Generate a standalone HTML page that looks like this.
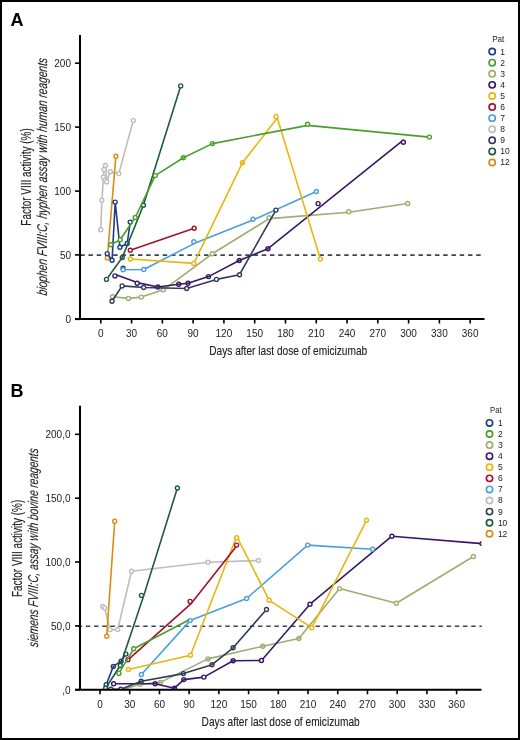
<!DOCTYPE html>
<html><head><meta charset="utf-8"><style>html,body{margin:0;padding:0;background:#fff;width:520px;height:740px;overflow:hidden}</style></head>
<body><svg width="520" height="740" viewBox="0 0 520 740" style="display:block;font-family:'Liberation Sans', sans-serif;will-change:transform"><rect x="0" y="0" width="520" height="740" fill="#fff"/><text x="10.6" y="25.6" font-size="18" font-weight="bold" fill="#000">A</text><line x1="80.2" y1="255.1" x2="484.5" y2="255.1" stroke="#3e4459" stroke-width="1.6" stroke-dasharray="4.5 3.75"/><clipPath id="clipA"><rect x="80" y="25" width="404.5" height="293.4"/></clipPath><g clip-path="url(#clipA)"><circle cx="123.1" cy="268.3" r="2.0" fill="#fff" stroke="#1d3c84" stroke-width="1.4"/><circle cx="318.1" cy="203.6" r="2.0" fill="#fff" stroke="#3b1767" stroke-width="1.4"/><polyline points="100.7,229.8 101.9,200.2 103.4,177.0 104.1,169.5 105.5,165.5 106.7,181.9 110.3,171.8 118.8,173.6 133.3,120.4" fill="none" stroke="#bdbdc0" stroke-width="1.6" stroke-linejoin="round"/><circle cx="100.7" cy="229.8" r="2.0" fill="#fff" stroke="#bdbdc0" stroke-width="1.4"/><circle cx="101.9" cy="200.2" r="2.0" fill="#fff" stroke="#bdbdc0" stroke-width="1.4"/><circle cx="103.4" cy="177.0" r="2.0" fill="#fff" stroke="#bdbdc0" stroke-width="1.4"/><circle cx="104.1" cy="169.5" r="2.0" fill="#fff" stroke="#bdbdc0" stroke-width="1.4"/><circle cx="105.5" cy="165.5" r="2.0" fill="#fff" stroke="#bdbdc0" stroke-width="1.4"/><circle cx="106.7" cy="181.9" r="2.0" fill="#fff" stroke="#bdbdc0" stroke-width="1.4"/><circle cx="110.3" cy="171.8" r="2.0" fill="#fff" stroke="#bdbdc0" stroke-width="1.4"/><circle cx="118.8" cy="173.6" r="2.0" fill="#fff" stroke="#bdbdc0" stroke-width="1.4"/><circle cx="133.3" cy="120.4" r="2.0" fill="#fff" stroke="#bdbdc0" stroke-width="1.4"/><polyline points="107.3,257.9 115.9,156.2" fill="none" stroke="#de8a14" stroke-width="1.6" stroke-linejoin="round"/><circle cx="107.3" cy="257.9" r="2.0" fill="#fff" stroke="#de8a14" stroke-width="1.4"/><circle cx="115.9" cy="156.2" r="2.0" fill="#fff" stroke="#de8a14" stroke-width="1.4"/><polyline points="107.2,253.6 112.1,260.2 115.2,202.1 119.9,247.2 127.2,243.5 130.2,222.1" fill="none" stroke="#1d3c84" stroke-width="1.6" stroke-linejoin="round"/><circle cx="107.2" cy="253.6" r="2.0" fill="#fff" stroke="#1d3c84" stroke-width="1.4"/><circle cx="112.1" cy="260.2" r="2.0" fill="#fff" stroke="#1d3c84" stroke-width="1.4"/><circle cx="115.2" cy="202.1" r="2.0" fill="#fff" stroke="#1d3c84" stroke-width="1.4"/><circle cx="119.9" cy="247.2" r="2.0" fill="#fff" stroke="#1d3c84" stroke-width="1.4"/><circle cx="127.2" cy="243.5" r="2.0" fill="#fff" stroke="#1d3c84" stroke-width="1.4"/><circle cx="130.2" cy="222.1" r="2.0" fill="#fff" stroke="#1d3c84" stroke-width="1.4"/><polyline points="106.5,279.4 122.3,257.5 143.4,205.2 180.7,85.9" fill="none" stroke="#1e5b3d" stroke-width="1.6" stroke-linejoin="round"/><circle cx="106.5" cy="279.4" r="2.0" fill="#fff" stroke="#1e5b3d" stroke-width="1.4"/><circle cx="122.3" cy="257.5" r="2.0" fill="none" stroke="#1e5b3d" stroke-width="1.4"/><circle cx="143.4" cy="205.2" r="2.0" fill="#fff" stroke="#1e5b3d" stroke-width="1.4"/><circle cx="180.7" cy="85.9" r="2.0" fill="#fff" stroke="#1e5b3d" stroke-width="1.4"/><polyline points="112.5,296.7 128.4,298.4 141.3,297.1 163.4,289.8 212.3,253.8 269.2,218.6 348.8,212.3 407.7,203.5" fill="none" stroke="#9fac72" stroke-width="1.6" stroke-linejoin="round"/><circle cx="112.5" cy="296.7" r="2.0" fill="#fff" stroke="#9fac72" stroke-width="1.4"/><circle cx="128.4" cy="298.4" r="2.0" fill="#fff" stroke="#9fac72" stroke-width="1.4"/><circle cx="141.3" cy="297.1" r="2.0" fill="#fff" stroke="#9fac72" stroke-width="1.4"/><circle cx="163.4" cy="289.8" r="2.0" fill="#fff" stroke="#9fac72" stroke-width="1.4"/><circle cx="212.3" cy="253.8" r="2.0" fill="#fff" stroke="#9fac72" stroke-width="1.4"/><circle cx="269.2" cy="217.8" r="2.0" fill="#fff" stroke="#9fac72" stroke-width="1.4"/><circle cx="348.8" cy="211.8" r="2.0" fill="#fff" stroke="#9fac72" stroke-width="1.4"/><circle cx="407.7" cy="203.5" r="2.0" fill="#fff" stroke="#9fac72" stroke-width="1.4"/><polyline points="115.4,274.6 137.2,282.6 157.9,287.0 178.7,284.3 188.0,283.3 208.5,276.6 239.2,260.5 268.0,248.7 403.6,139.8" fill="none" stroke="#3b1767" stroke-width="1.6" stroke-linejoin="round"/><circle cx="114.9" cy="275.9" r="2.0" fill="#fff" stroke="#3b1767" stroke-width="1.4"/><circle cx="137.2" cy="283.2" r="2.0" fill="#fff" stroke="#3b1767" stroke-width="1.4"/><circle cx="157.9" cy="287.0" r="2.0" fill="none" stroke="#3b1767" stroke-width="1.4"/><circle cx="178.7" cy="284.3" r="2.0" fill="none" stroke="#3b1767" stroke-width="1.4"/><circle cx="188.0" cy="283.3" r="2.0" fill="none" stroke="#3b1767" stroke-width="1.4"/><circle cx="208.5" cy="276.6" r="2.0" fill="none" stroke="#3b1767" stroke-width="1.4"/><circle cx="239.2" cy="260.5" r="2.0" fill="none" stroke="#3b1767" stroke-width="1.4"/><circle cx="268.0" cy="248.7" r="2.0" fill="none" stroke="#3b1767" stroke-width="1.4"/><circle cx="403.4" cy="142.2" r="2.0" fill="#fff" stroke="#3b1767" stroke-width="1.4"/><polyline points="123.1,269.8 143.8,269.5 194.0,243.6 253.0,220.0 316.4,191.5" fill="none" stroke="#4a9fdc" stroke-width="1.6" stroke-linejoin="round"/><circle cx="123.1" cy="269.8" r="2.0" fill="#fff" stroke="#4a9fdc" stroke-width="1.4"/><circle cx="143.8" cy="269.5" r="2.0" fill="#fff" stroke="#4a9fdc" stroke-width="1.4"/><circle cx="193.8" cy="241.8" r="2.0" fill="#fff" stroke="#4a9fdc" stroke-width="1.4"/><circle cx="253.0" cy="219.3" r="2.0" fill="#fff" stroke="#4a9fdc" stroke-width="1.4"/><circle cx="316.4" cy="191.5" r="2.0" fill="#fff" stroke="#4a9fdc" stroke-width="1.4"/><polyline points="112.0,301.2 122.1,285.9 143.7,287.5 186.7,288.5 216.4,279.4 239.5,274.7 275.9,210.1" fill="none" stroke="#313c57" stroke-width="1.6" stroke-linejoin="round"/><circle cx="112.0" cy="301.2" r="2.0" fill="#fff" stroke="#313c57" stroke-width="1.4"/><circle cx="122.1" cy="285.9" r="2.0" fill="#fff" stroke="#313c57" stroke-width="1.4"/><circle cx="143.7" cy="287.5" r="2.0" fill="#fff" stroke="#313c57" stroke-width="1.4"/><circle cx="186.7" cy="288.5" r="2.0" fill="#fff" stroke="#313c57" stroke-width="1.4"/><circle cx="216.4" cy="279.4" r="2.0" fill="#fff" stroke="#313c57" stroke-width="1.4"/><circle cx="239.5" cy="274.7" r="2.0" fill="#fff" stroke="#313c57" stroke-width="1.4"/><circle cx="275.9" cy="210.1" r="2.0" fill="#fff" stroke="#313c57" stroke-width="1.4"/><polyline points="130.4,259.0 193.8,263.4 242.5,162.7 277.3,118.0 320.4,259.1" fill="none" stroke="#e8b60c" stroke-width="1.6" stroke-linejoin="round"/><circle cx="130.4" cy="259.0" r="2.0" fill="#fff" stroke="#e8b60c" stroke-width="1.4"/><circle cx="193.8" cy="263.4" r="2.0" fill="#fff" stroke="#e8b60c" stroke-width="1.4"/><circle cx="242.5" cy="162.7" r="2.0" fill="none" stroke="#e8b60c" stroke-width="1.4"/><circle cx="276.0" cy="116.4" r="2.0" fill="#fff" stroke="#e8b60c" stroke-width="1.4"/><circle cx="320.4" cy="259.1" r="2.0" fill="#fff" stroke="#e8b60c" stroke-width="1.4"/><polyline points="130.3,250.2 194.2,228.2" fill="none" stroke="#a3102b" stroke-width="1.6" stroke-linejoin="round"/><circle cx="130.3" cy="250.2" r="2.0" fill="#fff" stroke="#a3102b" stroke-width="1.4"/><circle cx="194.2" cy="228.2" r="2.0" fill="#fff" stroke="#a3102b" stroke-width="1.4"/><polyline points="110.8,244.7 120.2,239.8 135.2,217.5 155.2,175.6 183.3,157.8 212.5,143.6 307.7,125.4 429.4,137.1" fill="none" stroke="#4b9e2a" stroke-width="1.6" stroke-linejoin="round"/><circle cx="110.8" cy="244.7" r="2.0" fill="#fff" stroke="#4b9e2a" stroke-width="1.4"/><circle cx="120.2" cy="239.8" r="2.0" fill="#fff" stroke="#4b9e2a" stroke-width="1.4"/><circle cx="135.2" cy="217.5" r="2.0" fill="#fff" stroke="#4b9e2a" stroke-width="1.4"/><circle cx="155.2" cy="175.6" r="2.0" fill="#fff" stroke="#4b9e2a" stroke-width="1.4"/><circle cx="183.3" cy="157.8" r="2.0" fill="none" stroke="#4b9e2a" stroke-width="1.4"/><circle cx="212.5" cy="143.6" r="2.0" fill="none" stroke="#4b9e2a" stroke-width="1.4"/><circle cx="307.6" cy="124.3" r="2.0" fill="#fff" stroke="#4b9e2a" stroke-width="1.4"/><circle cx="429.4" cy="137.1" r="2.0" fill="#fff" stroke="#4b9e2a" stroke-width="1.4"/></g><line x1="80" y1="35" x2="80" y2="319.0" stroke="#000" stroke-width="2"/><line x1="75" y1="319.0" x2="484.5" y2="319.0" stroke="#000" stroke-width="2"/><line x1="75" y1="63.2" x2="80" y2="63.2" stroke="#000" stroke-width="1.6"/><text x="71" y="67.0" font-size="10" text-anchor="end" fill="#222">200</text><line x1="75" y1="127.1" x2="80" y2="127.1" stroke="#000" stroke-width="1.6"/><text x="71" y="130.9" font-size="10" text-anchor="end" fill="#222">150</text><line x1="75" y1="191.1" x2="80" y2="191.1" stroke="#000" stroke-width="1.6"/><text x="71" y="194.9" font-size="10" text-anchor="end" fill="#222">100</text><line x1="75" y1="254.9" x2="80" y2="254.9" stroke="#000" stroke-width="1.6"/><text x="71" y="258.7" font-size="10" text-anchor="end" fill="#222">50</text><line x1="75" y1="319.3" x2="80" y2="319.3" stroke="#000" stroke-width="1.6"/><text x="71" y="323.1" font-size="10" text-anchor="end" fill="#222">0</text><line x1="100.80" y1="319.0" x2="100.80" y2="323.5" stroke="#000" stroke-width="1.6"/><text x="100.80" y="337.2" font-size="10" text-anchor="middle" fill="#222">0</text><line x1="131.58" y1="319.0" x2="131.58" y2="323.5" stroke="#000" stroke-width="1.6"/><text x="131.58" y="337.2" font-size="10" text-anchor="middle" fill="#222">30</text><line x1="162.36" y1="319.0" x2="162.36" y2="323.5" stroke="#000" stroke-width="1.6"/><text x="162.36" y="337.2" font-size="10" text-anchor="middle" fill="#222">60</text><line x1="193.14" y1="319.0" x2="193.14" y2="323.5" stroke="#000" stroke-width="1.6"/><text x="193.14" y="337.2" font-size="10" text-anchor="middle" fill="#222">90</text><line x1="223.92" y1="319.0" x2="223.92" y2="323.5" stroke="#000" stroke-width="1.6"/><text x="223.92" y="337.2" font-size="10" text-anchor="middle" fill="#222">120</text><line x1="254.70" y1="319.0" x2="254.70" y2="323.5" stroke="#000" stroke-width="1.6"/><text x="254.70" y="337.2" font-size="10" text-anchor="middle" fill="#222">150</text><line x1="285.48" y1="319.0" x2="285.48" y2="323.5" stroke="#000" stroke-width="1.6"/><text x="285.48" y="337.2" font-size="10" text-anchor="middle" fill="#222">180</text><line x1="316.26" y1="319.0" x2="316.26" y2="323.5" stroke="#000" stroke-width="1.6"/><text x="316.26" y="337.2" font-size="10" text-anchor="middle" fill="#222">210</text><line x1="347.04" y1="319.0" x2="347.04" y2="323.5" stroke="#000" stroke-width="1.6"/><text x="347.04" y="337.2" font-size="10" text-anchor="middle" fill="#222">240</text><line x1="377.82" y1="319.0" x2="377.82" y2="323.5" stroke="#000" stroke-width="1.6"/><text x="377.82" y="337.2" font-size="10" text-anchor="middle" fill="#222">270</text><line x1="408.60" y1="319.0" x2="408.60" y2="323.5" stroke="#000" stroke-width="1.6"/><text x="408.60" y="337.2" font-size="10" text-anchor="middle" fill="#222">300</text><line x1="439.38" y1="319.0" x2="439.38" y2="323.5" stroke="#000" stroke-width="1.6"/><text x="439.38" y="337.2" font-size="10" text-anchor="middle" fill="#222">330</text><line x1="470.16" y1="319.0" x2="470.16" y2="323.5" stroke="#000" stroke-width="1.6"/><text x="470.16" y="337.2" font-size="10" text-anchor="middle" fill="#222">360</text><text x="209.2" y="355.3" font-size="13" fill="#222" stroke="#222" stroke-width="0.12" textLength="158.0" lengthAdjust="spacingAndGlyphs">Days after last dose of emicizumab</text><text transform="translate(30.8,225.7) rotate(-90)" font-size="14" fill="#222" stroke="#222" stroke-width="0.12" textLength="97.39999999999998" lengthAdjust="spacingAndGlyphs">Factor VIII activity (%)</text><text transform="translate(46.5,295.8) rotate(-90) skewX(-6)" font-size="14.2" font-style="italic" fill="#222" stroke="#222" stroke-width="0.12" textLength="237.5" lengthAdjust="spacingAndGlyphs">biophen FVIII:C, hyphen assay with human reagents</text><text x="492.2" y="41.9" font-size="8.5" fill="#222" textLength="12.199999999999989" lengthAdjust="spacingAndGlyphs">Pat</text><circle cx="492.2" cy="51.60" r="3.15" fill="none" stroke="#1d3c84" stroke-width="1.65"/><text x="500.3" y="54.50" font-size="8.5" fill="#222">1</text><circle cx="492.2" cy="62.69" r="3.15" fill="none" stroke="#4b9e2a" stroke-width="1.65"/><text x="500.3" y="65.59" font-size="8.5" fill="#222">2</text><circle cx="492.2" cy="73.78" r="3.15" fill="none" stroke="#9fac72" stroke-width="1.65"/><text x="500.3" y="76.68" font-size="8.5" fill="#222">3</text><circle cx="492.2" cy="84.87" r="3.15" fill="none" stroke="#3b1767" stroke-width="1.65"/><text x="500.3" y="87.77" font-size="8.5" fill="#222">4</text><circle cx="492.2" cy="95.96" r="3.15" fill="none" stroke="#e8b60c" stroke-width="1.65"/><text x="500.3" y="98.86" font-size="8.5" fill="#222">5</text><circle cx="492.2" cy="107.05" r="3.15" fill="none" stroke="#a3102b" stroke-width="1.65"/><text x="500.3" y="109.95" font-size="8.5" fill="#222">6</text><circle cx="492.2" cy="118.14" r="3.15" fill="none" stroke="#4a9fdc" stroke-width="1.65"/><text x="500.3" y="121.04" font-size="8.5" fill="#222">7</text><circle cx="492.2" cy="129.23" r="3.15" fill="none" stroke="#bdbdc0" stroke-width="1.65"/><text x="500.3" y="132.13" font-size="8.5" fill="#222">8</text><circle cx="492.2" cy="140.32" r="3.15" fill="none" stroke="#313c57" stroke-width="1.65"/><text x="500.3" y="143.22" font-size="8.5" fill="#222">9</text><circle cx="492.2" cy="151.41" r="3.15" fill="none" stroke="#1e5b3d" stroke-width="1.65"/><text x="500.3" y="154.31" font-size="8.5" fill="#222">10</text><circle cx="492.2" cy="162.50" r="3.15" fill="none" stroke="#de8a14" stroke-width="1.65"/><text x="500.3" y="165.40" font-size="8.5" fill="#222">12</text><text x="10.6" y="397.1" font-size="18" font-weight="bold" fill="#000">B</text><line x1="77.6" y1="626.2" x2="481.8" y2="626.2" stroke="#3e4459" stroke-width="1.6" stroke-dasharray="4.5 3.7"/><clipPath id="clipB"><rect x="80" y="395.8" width="401.5" height="293.3999999999999"/></clipPath><g clip-path="url(#clipB)"><polyline points="102.7,606.5 104.6,608.1 110.0,629.6 117.7,629.6 131.5,571.2 208.0,562.3 258.5,560.5" fill="none" stroke="#bdbdc0" stroke-width="1.6" stroke-linejoin="round"/><circle cx="102.7" cy="606.5" r="2.0" fill="#fff" stroke="#bdbdc0" stroke-width="1.4"/><circle cx="104.6" cy="608.1" r="2.0" fill="#fff" stroke="#bdbdc0" stroke-width="1.4"/><circle cx="110.0" cy="629.6" r="2.0" fill="#fff" stroke="#bdbdc0" stroke-width="1.4"/><circle cx="117.7" cy="629.6" r="2.0" fill="#fff" stroke="#bdbdc0" stroke-width="1.4"/><circle cx="131.5" cy="571.2" r="2.0" fill="#fff" stroke="#bdbdc0" stroke-width="1.4"/><circle cx="208.0" cy="562.3" r="2.0" fill="#fff" stroke="#bdbdc0" stroke-width="1.4"/><circle cx="258.5" cy="560.5" r="2.0" fill="#fff" stroke="#bdbdc0" stroke-width="1.4"/><polyline points="106.7,636.2 114.7,521.2" fill="none" stroke="#de8a14" stroke-width="1.6" stroke-linejoin="round"/><circle cx="106.7" cy="636.2" r="2.0" fill="#fff" stroke="#de8a14" stroke-width="1.4"/><circle cx="114.7" cy="521.2" r="2.0" fill="#fff" stroke="#de8a14" stroke-width="1.4"/><polyline points="106.2,684.8 113.3,666.4 121.1,661.2 125.9,654.1" fill="none" stroke="#1d3c84" stroke-width="1.6" stroke-linejoin="round"/><circle cx="106.2" cy="684.8" r="2.0" fill="#fff" stroke="#1d3c84" stroke-width="1.4"/><circle cx="113.3" cy="666.4" r="2.0" fill="none" stroke="#1d3c84" stroke-width="1.4"/><circle cx="121.1" cy="661.2" r="2.0" fill="none" stroke="#1d3c84" stroke-width="1.4"/><circle cx="125.9" cy="654.1" r="2.0" fill="#fff" stroke="#1d3c84" stroke-width="1.4"/><polyline points="105.6,688.2 120.3,665.5 143.8,595.4 177.4,488.0" fill="none" stroke="#1e5b3d" stroke-width="1.6" stroke-linejoin="round"/><circle cx="105.6" cy="688.2" r="2.0" fill="#fff" stroke="#1e5b3d" stroke-width="1.4"/><circle cx="120.3" cy="665.5" r="2.0" fill="#fff" stroke="#1e5b3d" stroke-width="1.4"/><circle cx="141.5" cy="595.4" r="2.0" fill="#fff" stroke="#1e5b3d" stroke-width="1.4"/><circle cx="177.4" cy="488.0" r="2.0" fill="#fff" stroke="#1e5b3d" stroke-width="1.4"/><polyline points="123.0,689.5 140.0,684.2 160.4,682.4 208.0,658.9 262.8,646.2 298.9,638.5 339.6,588.6 396.3,603.2 473.4,556.5" fill="none" stroke="#9fac72" stroke-width="1.6" stroke-linejoin="round"/><circle cx="140.0" cy="684.2" r="2.0" fill="#fff" stroke="#9fac72" stroke-width="1.4"/><circle cx="160.4" cy="682.4" r="2.0" fill="none" stroke="#9fac72" stroke-width="1.4"/><circle cx="208.0" cy="658.9" r="2.0" fill="none" stroke="#9fac72" stroke-width="1.4"/><circle cx="262.8" cy="646.2" r="2.0" fill="none" stroke="#9fac72" stroke-width="1.4"/><circle cx="298.9" cy="638.5" r="2.0" fill="none" stroke="#9fac72" stroke-width="1.4"/><circle cx="339.6" cy="588.6" r="2.0" fill="#fff" stroke="#9fac72" stroke-width="1.4"/><circle cx="396.3" cy="603.2" r="2.0" fill="#fff" stroke="#9fac72" stroke-width="1.4"/><circle cx="473.4" cy="556.5" r="2.0" fill="#fff" stroke="#9fac72" stroke-width="1.4"/><polyline points="113.6,683.7 155.1,683.7 174.4,688.2 183.8,679.6 203.9,677.1 233.1,660.7 261.5,660.5 310.0,604.2 391.9,536.2 482.0,543.6" fill="none" stroke="#3b1767" stroke-width="1.6" stroke-linejoin="round"/><circle cx="113.6" cy="683.7" r="2.0" fill="#fff" stroke="#3b1767" stroke-width="1.4"/><circle cx="155.1" cy="683.7" r="2.0" fill="none" stroke="#3b1767" stroke-width="1.4"/><circle cx="174.4" cy="688.2" r="2.0" fill="none" stroke="#3b1767" stroke-width="1.4"/><circle cx="183.8" cy="679.6" r="2.0" fill="none" stroke="#3b1767" stroke-width="1.4"/><circle cx="203.9" cy="677.1" r="2.0" fill="#fff" stroke="#3b1767" stroke-width="1.4"/><circle cx="233.1" cy="660.7" r="2.0" fill="none" stroke="#3b1767" stroke-width="1.4"/><circle cx="261.5" cy="660.5" r="2.0" fill="#fff" stroke="#3b1767" stroke-width="1.4"/><circle cx="310.0" cy="604.2" r="2.0" fill="#fff" stroke="#3b1767" stroke-width="1.4"/><circle cx="391.9" cy="536.2" r="2.0" fill="#fff" stroke="#3b1767" stroke-width="1.4"/><circle cx="482.0" cy="543.6" r="2.0" fill="#fff" stroke="#3b1767" stroke-width="1.4"/><polyline points="141.4,674.5 190.1,620.6 246.6,598.5 307.7,545.1 372.6,549.2" fill="none" stroke="#4a9fdc" stroke-width="1.6" stroke-linejoin="round"/><circle cx="141.4" cy="674.5" r="2.0" fill="#fff" stroke="#4a9fdc" stroke-width="1.4"/><circle cx="190.1" cy="620.6" r="2.0" fill="#fff" stroke="#4a9fdc" stroke-width="1.4"/><circle cx="246.6" cy="598.5" r="2.0" fill="#fff" stroke="#4a9fdc" stroke-width="1.4"/><circle cx="307.7" cy="545.1" r="2.0" fill="#fff" stroke="#4a9fdc" stroke-width="1.4"/><circle cx="372.6" cy="549.2" r="2.0" fill="#fff" stroke="#4a9fdc" stroke-width="1.4"/><polyline points="106.0,689.5 110.8,689.3 120.8,689.3 141.2,681.3 183.4,673.6 212.0,664.7 233.1,647.8 266.5,609.5" fill="none" stroke="#313c57" stroke-width="1.6" stroke-linejoin="round"/><circle cx="110.8" cy="689.3" r="2.0" fill="#fff" stroke="#313c57" stroke-width="1.4"/><circle cx="120.8" cy="689.3" r="2.0" fill="#fff" stroke="#313c57" stroke-width="1.4"/><circle cx="141.2" cy="681.3" r="2.0" fill="none" stroke="#313c57" stroke-width="1.4"/><circle cx="183.4" cy="673.6" r="2.0" fill="none" stroke="#313c57" stroke-width="1.4"/><circle cx="212.0" cy="664.7" r="2.0" fill="none" stroke="#313c57" stroke-width="1.4"/><circle cx="233.1" cy="647.8" r="2.0" fill="none" stroke="#313c57" stroke-width="1.4"/><circle cx="266.5" cy="609.5" r="2.0" fill="#fff" stroke="#313c57" stroke-width="1.4"/><polyline points="128.4,669.5 190.5,655.3 236.7,536.3 269.2,600.3 311.8,627.7 366.5,520.3" fill="none" stroke="#e8b60c" stroke-width="1.6" stroke-linejoin="round"/><circle cx="128.4" cy="669.5" r="2.0" fill="#fff" stroke="#e8b60c" stroke-width="1.4"/><circle cx="190.5" cy="655.3" r="2.0" fill="#fff" stroke="#e8b60c" stroke-width="1.4"/><circle cx="236.7" cy="537.7" r="2.0" fill="#fff" stroke="#e8b60c" stroke-width="1.4"/><circle cx="269.2" cy="600.3" r="2.0" fill="#fff" stroke="#e8b60c" stroke-width="1.4"/><circle cx="311.8" cy="627.7" r="2.0" fill="#fff" stroke="#e8b60c" stroke-width="1.4"/><circle cx="366.5" cy="520.3" r="2.0" fill="#fff" stroke="#e8b60c" stroke-width="1.4"/><polyline points="127.9,659.8 191.4,603.3 237.0,545.6" fill="none" stroke="#a3102b" stroke-width="1.6" stroke-linejoin="round"/><circle cx="127.9" cy="659.8" r="2.0" fill="#fff" stroke="#a3102b" stroke-width="1.4"/><circle cx="190.1" cy="601.4" r="2.0" fill="#fff" stroke="#a3102b" stroke-width="1.4"/><circle cx="236.6" cy="545.1" r="2.0" fill="#fff" stroke="#a3102b" stroke-width="1.4"/><polyline points="118.9,673.4 133.7,648.8 189.3,619.8" fill="none" stroke="#4b9e2a" stroke-width="1.6" stroke-linejoin="round"/><circle cx="118.9" cy="673.4" r="2.0" fill="#fff" stroke="#4b9e2a" stroke-width="1.4"/><circle cx="133.7" cy="648.8" r="2.0" fill="#fff" stroke="#4b9e2a" stroke-width="1.4"/></g><line x1="80" y1="405.8" x2="80" y2="689.8" stroke="#000" stroke-width="2"/><line x1="75" y1="689.8" x2="481.5" y2="689.8" stroke="#000" stroke-width="2"/><line x1="75" y1="434.3" x2="80" y2="434.3" stroke="#000" stroke-width="1.6"/><text x="70.5" y="438.1" font-size="10" text-anchor="end" fill="#222">200,0</text><line x1="75" y1="498.2" x2="80" y2="498.2" stroke="#000" stroke-width="1.6"/><text x="70.5" y="502.0" font-size="10" text-anchor="end" fill="#222">150,0</text><line x1="75" y1="562.0" x2="80" y2="562.0" stroke="#000" stroke-width="1.6"/><text x="70.5" y="565.8" font-size="10" text-anchor="end" fill="#222">100,0</text><line x1="75" y1="625.9" x2="80" y2="625.9" stroke="#000" stroke-width="1.6"/><text x="70.5" y="629.6999999999999" font-size="10" text-anchor="end" fill="#222">50,0</text><line x1="75" y1="689.7" x2="80" y2="689.7" stroke="#000" stroke-width="1.6"/><text x="70.5" y="693.5" font-size="10" text-anchor="end" fill="#222">,0</text><line x1="100.00" y1="689.8" x2="100.00" y2="694.3" stroke="#000" stroke-width="1.6"/><text x="100.00" y="707.6" font-size="10" text-anchor="middle" fill="#222">0</text><line x1="129.72" y1="689.8" x2="129.72" y2="694.3" stroke="#000" stroke-width="1.6"/><text x="129.72" y="707.6" font-size="10" text-anchor="middle" fill="#222">30</text><line x1="159.44" y1="689.8" x2="159.44" y2="694.3" stroke="#000" stroke-width="1.6"/><text x="159.44" y="707.6" font-size="10" text-anchor="middle" fill="#222">60</text><line x1="189.15" y1="689.8" x2="189.15" y2="694.3" stroke="#000" stroke-width="1.6"/><text x="189.15" y="707.6" font-size="10" text-anchor="middle" fill="#222">90</text><line x1="218.87" y1="689.8" x2="218.87" y2="694.3" stroke="#000" stroke-width="1.6"/><text x="218.87" y="707.6" font-size="10" text-anchor="middle" fill="#222">120</text><line x1="248.59" y1="689.8" x2="248.59" y2="694.3" stroke="#000" stroke-width="1.6"/><text x="248.59" y="707.6" font-size="10" text-anchor="middle" fill="#222">150</text><line x1="278.31" y1="689.8" x2="278.31" y2="694.3" stroke="#000" stroke-width="1.6"/><text x="278.31" y="707.6" font-size="10" text-anchor="middle" fill="#222">180</text><line x1="308.03" y1="689.8" x2="308.03" y2="694.3" stroke="#000" stroke-width="1.6"/><text x="308.03" y="707.6" font-size="10" text-anchor="middle" fill="#222">210</text><line x1="337.74" y1="689.8" x2="337.74" y2="694.3" stroke="#000" stroke-width="1.6"/><text x="337.74" y="707.6" font-size="10" text-anchor="middle" fill="#222">240</text><line x1="367.46" y1="689.8" x2="367.46" y2="694.3" stroke="#000" stroke-width="1.6"/><text x="367.46" y="707.6" font-size="10" text-anchor="middle" fill="#222">270</text><line x1="397.18" y1="689.8" x2="397.18" y2="694.3" stroke="#000" stroke-width="1.6"/><text x="397.18" y="707.6" font-size="10" text-anchor="middle" fill="#222">300</text><line x1="426.90" y1="689.8" x2="426.90" y2="694.3" stroke="#000" stroke-width="1.6"/><text x="426.90" y="707.6" font-size="10" text-anchor="middle" fill="#222">330</text><line x1="456.62" y1="689.8" x2="456.62" y2="694.3" stroke="#000" stroke-width="1.6"/><text x="456.62" y="707.6" font-size="10" text-anchor="middle" fill="#222">360</text><text x="201.6" y="725.8" font-size="13" fill="#222" stroke="#222" stroke-width="0.12" textLength="158.1" lengthAdjust="spacingAndGlyphs">Days after last dose of emicizumab</text><text transform="translate(22.3,597.0) rotate(-90)" font-size="14" fill="#222" stroke="#222" stroke-width="0.12" textLength="97.19999999999999" lengthAdjust="spacingAndGlyphs">Factor VIII activity (%)</text><text transform="translate(38.0,647.4) rotate(-90) skewX(-6)" font-size="14.2" font-style="italic" fill="#222" stroke="#222" stroke-width="0.12" textLength="198.59999999999997" lengthAdjust="spacingAndGlyphs">siemens FVIII:C, assay with bovine reagents</text><text x="490" y="413.2" font-size="8.5" fill="#222" textLength="11.600000000000023" lengthAdjust="spacingAndGlyphs">Pat</text><circle cx="489.5" cy="422.90" r="3.15" fill="none" stroke="#1d3c84" stroke-width="1.65"/><text x="497.9" y="425.80" font-size="8.5" fill="#222">1</text><circle cx="489.5" cy="433.99" r="3.15" fill="none" stroke="#4b9e2a" stroke-width="1.65"/><text x="497.9" y="436.89" font-size="8.5" fill="#222">2</text><circle cx="489.5" cy="445.08" r="3.15" fill="none" stroke="#9fac72" stroke-width="1.65"/><text x="497.9" y="447.98" font-size="8.5" fill="#222">3</text><circle cx="489.5" cy="456.17" r="3.15" fill="none" stroke="#3b1767" stroke-width="1.65"/><text x="497.9" y="459.07" font-size="8.5" fill="#222">4</text><circle cx="489.5" cy="467.26" r="3.15" fill="none" stroke="#e8b60c" stroke-width="1.65"/><text x="497.9" y="470.16" font-size="8.5" fill="#222">5</text><circle cx="489.5" cy="478.35" r="3.15" fill="none" stroke="#a3102b" stroke-width="1.65"/><text x="497.9" y="481.25" font-size="8.5" fill="#222">6</text><circle cx="489.5" cy="489.44" r="3.15" fill="none" stroke="#4a9fdc" stroke-width="1.65"/><text x="497.9" y="492.34" font-size="8.5" fill="#222">7</text><circle cx="489.5" cy="500.53" r="3.15" fill="none" stroke="#bdbdc0" stroke-width="1.65"/><text x="497.9" y="503.43" font-size="8.5" fill="#222">8</text><circle cx="489.5" cy="511.62" r="3.15" fill="none" stroke="#313c57" stroke-width="1.65"/><text x="497.9" y="514.52" font-size="8.5" fill="#222">9</text><circle cx="489.5" cy="522.71" r="3.15" fill="none" stroke="#1e5b3d" stroke-width="1.65"/><text x="497.9" y="525.61" font-size="8.5" fill="#222">10</text><circle cx="489.5" cy="533.80" r="3.15" fill="none" stroke="#de8a14" stroke-width="1.65"/><text x="497.9" y="536.70" font-size="8.5" fill="#222">12</text><rect x="1" y="1" width="518" height="738" fill="none" stroke="#000" stroke-width="2"/></svg></body></html>
